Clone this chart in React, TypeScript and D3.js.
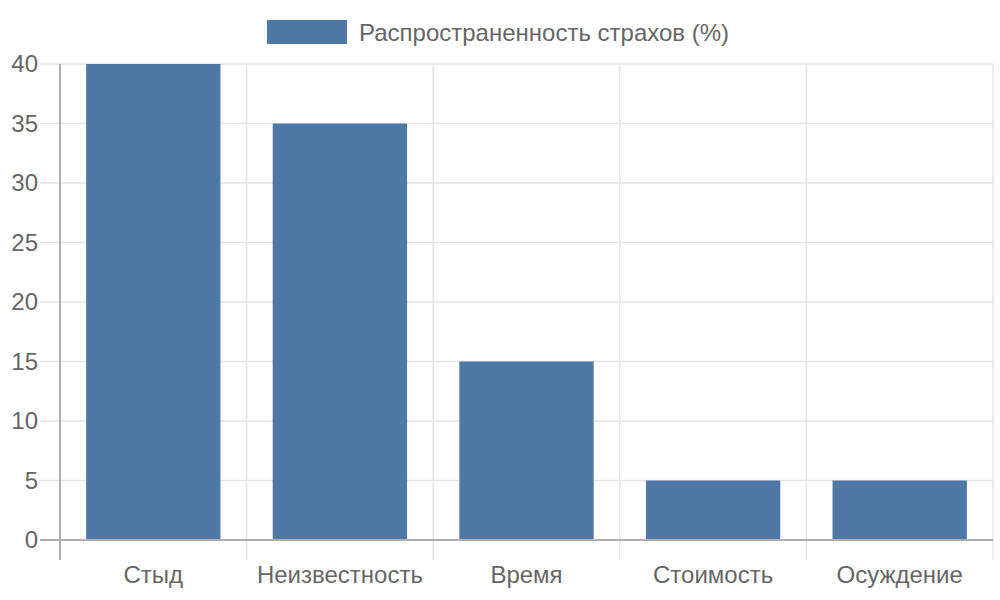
import React from 'react';
import * as d3 from 'd3';

const categories = ['Стыд', 'Неизвестность', 'Время', 'Стоимость', 'Осуждение'];
const values = [40, 35, 15, 5, 5];
const yTicks = [0, 5, 10, 15, 20, 25, 30, 35, 40];
const seriesLabel = 'Распространенность страхов (%)';

const width = 1000;
const height = 600;
const margin = { top: 64, right: 7, bottom: 60, left: 60 };
const barColor = '#4e79a7';
const gridColor = '#e5e5e5';
const axisColor = '#b0b0b0';
const textColor = '#666';
const font = '"Liberation Sans", Arial, sans-serif';

const App: React.FC = () => {
  const innerWidth = width - margin.left - margin.right;
  const innerHeight = height - margin.top - margin.bottom;

  const band = d3.scaleBand<string>()
    .domain(categories)
    .range([0, innerWidth]);

  const yScale = d3.scaleLinear()
    .domain([0, 40])
    .range([innerHeight, 0]);

  const step = band.step();
  const barWidth = step * 0.72;

  return (
    <svg
      width={width}
      height={height}
      style={{ position: 'absolute', left: 0, top: 0, fontFamily: font }}
    >
      <rect width={width} height={height} fill="white" />

      {/* Legend */}
      <g>
        <rect x={267} y={20} width={80} height={24} fill={barColor} />
        <text x={359} y={40.5} fontSize={24} fill={textColor}>{seriesLabel}</text>
      </g>

      <g transform={`translate(${margin.left},${margin.top})`}>
        {/* horizontal grid */}
        {yTicks.map(t => (
          <line
            key={`h-${t}`}
            x1={-20} x2={innerWidth}
            y1={yScale(t)} y2={yScale(t)}
            stroke={t === 0 ? axisColor : gridColor}
            strokeWidth={t === 0 ? 2 : 1.5}
          />
        ))}

        {/* vertical grid */}
        {categories.map((c, i) => (
          <line
            key={`v-${c}`}
            x1={band(c)!} x2={band(c)!}
            y1={0} y2={innerHeight + 20}
            stroke={i === 0 ? axisColor : gridColor}
            strokeWidth={i === 0 ? 2 : 1.5}
          />
        ))}
        <line
          x1={innerWidth} x2={innerWidth}
          y1={0} y2={innerHeight + 20}
          stroke={gridColor}
          strokeWidth={1.5}
        />

        {/* bars */}
        {categories.map((c, i) => (
          <rect
            key={`b-${c}`}
            x={band(c)! + (step - barWidth) / 2}
            y={yScale(values[i])}
            width={barWidth}
            height={innerHeight - yScale(values[i])}
            fill={barColor}
          />
        ))}

        {/* bottom axis line over bars */}
        <line x1={-20} x2={innerWidth} y1={innerHeight} y2={innerHeight} stroke={axisColor} strokeWidth={2} />

        {/* y tick labels */}
        {yTicks.map(t => (
          <text
            key={`yl-${t}`}
            x={-22}
            y={yScale(t)}
            dy="0.35em"
            textAnchor="end"
            fontSize={24}
            fill={textColor}
          >
            {t}
          </text>
        ))}

        {/* x tick labels */}
        {categories.map(c => (
          <text
            key={`xl-${c}`}
            x={band(c)! + step / 2}
            y={innerHeight + 43}
            textAnchor="middle"
            fontSize={24}
            fill={textColor}
          >
            {c}
          </text>
        ))}
      </g>
    </svg>
  );
};

export default App;
